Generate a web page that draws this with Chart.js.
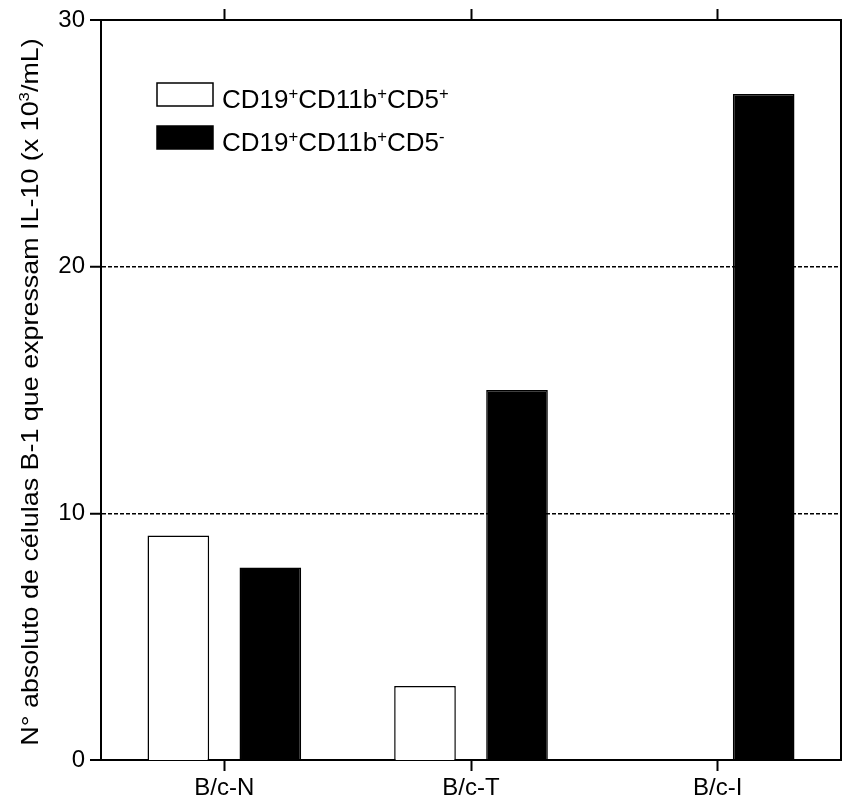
<!DOCTYPE html>
<html>
<head>
<meta charset="utf-8">
<script src="https://cdn.jsdelivr.net/npm/chart.js@4/dist/chart.umd.min.js"></script>
<style>
  html, body { margin: 0; padding: 0; background: #fff; }
  #wrap { width: 843px; height: 803px; }
</style>
</head>
<body>
<div id="wrap"><canvas id="c" width="843" height="803"></canvas></div>
<script>
// Categories and series values
const categories = ['B/c-N', 'B/c-T', 'B/c-I'];
const cd5PosValues = [9.1, 3.0, 0];
const cd5NegValues = [7.8, 15.0, 27.0];
const yTicks = [0, 10, 20, 30];

// Rich-text labels (segments; second item = superscript)
const cd5PosLabel = [['CD19'], ['+', 1], ['CD11b'], ['+', 1], ['CD5'], ['+', 1]];
const cd5NegLabel = [['CD19'], ['+', 1], ['CD11b'], ['+', 1], ['CD5'], ['-', 1]];
const yTitle = [['N\u00B0 absoluto de c\u00E9lulas B-1 que expressam IL-10 (x 10'], ['3', 1], ['/mL)']];

const FONT = '"Liberation Sans", Arial, Helvetica, sans-serif';

function richWidth(ctx, segs, size) {
  let w = 0;
  for (const [t, sup] of segs) {
    ctx.font = (sup ? Math.round(size * 0.62) : size) + 'px ' + FONT;
    w += ctx.measureText(t).width;
  }
  return w;
}
// Draws segments starting at (x, y) baseline, stretched horizontally by sx
function drawRich(ctx, segs, x, y, size, sx) {
  ctx.save();
  ctx.translate(x, y);
  ctx.scale(sx, 1);
  let cx = 0;
  ctx.textBaseline = 'alphabetic';
  ctx.textAlign = 'left';
  for (const [t, sup] of segs) {
    const s = sup ? Math.round(size * 0.62) : size;
    ctx.font = s + 'px ' + FONT;
    ctx.fillText(t, cx, sup ? -size * 0.38 : 0);
    cx += ctx.measureText(t).width;
  }
  ctx.restore();
}

// Draws the legend and the rotated y-axis title with superscripts
const annotations = {
  id: 'annotations',
  afterDraw(chart) {
    const {ctx, chartArea} = chart;
    ctx.save();
    ctx.strokeStyle = '#000';
    ctx.lineWidth = 1.5;
    const lx = chartArea.left + 56, bw = 56, bh = 23;
    const rows = [
      {ds: chart.data.datasets[0], label: cd5PosLabel, y: chartArea.top + 63},
      {ds: chart.data.datasets[1], label: cd5NegLabel, y: chartArea.top + 106}
    ];
    for (const r of rows) {
      ctx.fillStyle = r.ds.backgroundColor;
      ctx.fillRect(lx, r.y, bw, bh);
      ctx.strokeRect(lx, r.y, bw, bh);
      ctx.fillStyle = '#000';
      drawRich(ctx, r.label, lx + 65, r.y + 25, 25, 1.04);
    }
    // y-axis title
    const size = 24, sx = 1.12;
    const w = richWidth(ctx, yTitle, size) * sx;
    ctx.translate(38, (chartArea.top + chartArea.bottom) / 2 + 2);
    ctx.rotate(-Math.PI / 2);
    ctx.fillStyle = '#000';
    drawRich(ctx, yTitle, -w / 2, 0, size, sx);
    ctx.restore();
  }
};

const chart = new Chart(document.getElementById('c'), {
  type: 'bar',
  data: {
    labels: categories,
    datasets: [
      {
        label: 'CD19+CD11b+CD5+',
        data: cd5PosValues,
        backgroundColor: '#ffffff',
        borderColor: '#000000',
        borderWidth: 1.5
      },
      {
        label: 'CD19+CD11b+CD5-',
        data: cd5NegValues,
        backgroundColor: '#000000',
        borderColor: '#000000',
        borderWidth: 1.5
      }
    ]
  },
  options: {
    responsive: false,
    animation: false,
    devicePixelRatio: 1,
    layout: { padding: 0 },
    datasets: { bar: { barPercentage: 0.67, categoryPercentage: 0.746 } },
    plugins: { legend: { display: false }, tooltip: { enabled: false } },
    scales: {
      x: {
        position: 'bottom',
        offset: true,
        grid: { offset: false, drawOnChartArea: false, drawTicks: true, tickLength: 11, tickColor: '#000', tickWidth: 2 },
        border: { display: true, color: '#000', width: 2 },
        ticks: { color: '#000', font: { family: FONT, size: 24 }, padding: 3, maxRotation: 0 },
        afterFit(s) { s.height = 43; }
      },
      xTop: {
        type: 'category',
        position: 'top',
        offset: true,
        labels: categories,
        grid: { offset: false, drawOnChartArea: false, drawTicks: true, tickLength: 11, tickColor: '#000', tickWidth: 2 },
        border: { display: true, color: '#000', width: 2 },
        ticks: { display: false },
        afterFit(s) { s.height = 20; }
      },
      y: {
        position: 'left',
        min: 0,
        max: 30,
        afterBuildTicks(s) { s.ticks = yTicks.map(v => ({ value: v })); },
        grid: {
          color: '#000',
          lineWidth: c => (c.tick && (c.tick.value === 10 || c.tick.value === 20)) ? 1.5 : 0,
          drawTicks: true, tickLength: 11, tickColor: '#000', tickWidth: 2
        },
        border: { display: true, color: '#000', width: 2, dash: [4, 2] },
        ticks: { color: '#000', font: { family: FONT, size: 24 }, padding: 5 },
        afterFit(s) { s.width = 101; }
      },
      yRight: {
        position: 'right',
        min: 0,
        max: 30,
        grid: { display: false, drawTicks: false },
        border: { display: true, color: '#000', width: 2 },
        ticks: { display: false },
        afterFit(s) { s.width = 2; }
      }
    }
  },
  plugins: [annotations]
});
</script>
</body>
</html>
